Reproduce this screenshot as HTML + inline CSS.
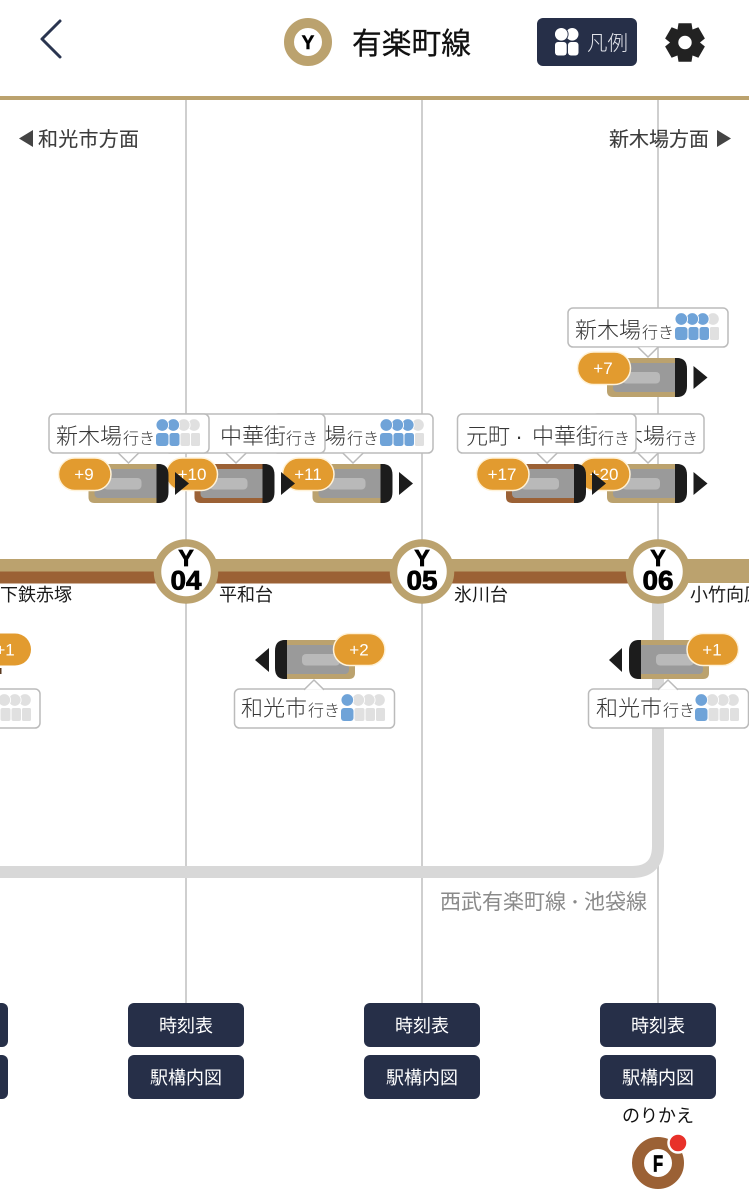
<!DOCTYPE html>
<html lang="ja"><head><meta charset="utf-8"><title>有楽町線</title>
<style>
html,body{margin:0;padding:0;background:#fff;width:749px;height:1199px;overflow:hidden}
svg{display:block}
text{font-family:"Liberation Sans","Noto Sans CJK JP",sans-serif}
.b{font-size:22px;fill:#363636;font-weight:300}
.b tspan{font-size:16px}
.n{font-size:18px;fill:#1a1a1a}
.d{font-size:20px;fill:#3c3c3c;stroke:#3c3c3c;stroke-width:.12}
.w{font-size:18px;fill:#fff;text-anchor:middle}
.o{font-size:17px;fill:#fff;text-anchor:middle}
.s{font-weight:700;fill:#000;text-anchor:middle;stroke:#000}
</style></head><body>
<svg width="749" height="1199" viewBox="0 0 749 1199" xmlns="http://www.w3.org/2000/svg">
<defs>
<g id="hb1"><rect x="0" y="14" width="12.500" height="13" rx="3" fill="#6fa3d8"/><circle cx="6.300" cy="6" r="6.300" fill="#6fa3d8" stroke="#fff" stroke-width=".9"/></g>
<g id="hb2"><rect x="13.500" y="14" width="10" height="13" rx="2.500" fill="#6fa3d8"/><circle cx="17.300" cy="6" r="6.300" fill="#6fa3d8" stroke="#fff" stroke-width=".9"/></g>
<g id="hb3"><rect x="24.500" y="14" width="9.500" height="13" rx="2.500" fill="#6fa3d8"/><circle cx="27.800" cy="6" r="6.300" fill="#6fa3d8" stroke="#fff" stroke-width=".9"/></g>
<g id="hg1"><rect x="0" y="14" width="12.500" height="13" rx="3" fill="#e0e0e0"/><circle cx="6.300" cy="6" r="6.300" fill="#e0e0e0" stroke="#fff" stroke-width=".9"/></g>
<g id="hg2"><rect x="13.500" y="14" width="10" height="13" rx="2" fill="#e0e0e0"/><circle cx="17.300" cy="6" r="6.300" fill="#e0e0e0" stroke="#fff" stroke-width=".9"/></g>
<g id="hg3"><rect x="24.500" y="14" width="9.500" height="13" rx="2" fill="#e0e0e0"/><circle cx="27.800" cy="6" r="6.300" fill="#e0e0e0" stroke="#fff" stroke-width=".9"/></g>
<g id="hg4"><rect x="35" y="14" width="9" height="13" rx="1.500" fill="#e0e0e0"/><circle cx="38" cy="6" r="6.300" fill="#e0e0e0" stroke="#fff" stroke-width=".9"/></g>
<g id="p0"><use href="#hg4"/><use href="#hg3"/><use href="#hg2"/><use href="#hg1"/></g>
<g id="p1"><use href="#hg4"/><use href="#hg3"/><use href="#hg2"/><use href="#hb1"/></g>
<g id="p2"><use href="#hg4"/><use href="#hg3"/><use href="#hb2"/><use href="#hb1"/></g>
<g id="p3"><use href="#hg4"/><use href="#hb3"/><use href="#hb2"/><use href="#hb1"/></g>
<g id="tc"><rect x="6" y="5" width="66" height="29" rx="4" fill="#9a9a9a"/><rect x="15" y="14" width="38" height="11.500" rx="4" fill="#b9b9b9"/><path d="M68 0h2q10 0 10 11v17q0 11-10 11h-2z" fill="#1c1c1c"/></g>
<g id="tg"><path d="M6 0H72V39H6q-6 0-6-6V6q0-6 6-6z" fill="#bba26e"/><use href="#tc"/></g>
<g id="tb"><path d="M6 0H72V39H6q-6 0-6-6V6q0-6 6-6z" fill="#9b6135"/><use href="#tc"/></g>
<path id="ae" d="M0 0L14 11.500L0 23z" fill="#1c1c1c"/>
<path id="tp" d="M-10 -.8L0 9L10 -.8" fill="#fff" stroke="#bbb" stroke-width="1.500"/>
<path id="tu" d="M-10 .8L0 -9L10 .8" fill="#fff" stroke="#bbb" stroke-width="1.500"/>
</defs>

<!-- header -->
<path d="M60 21L42 39L60 57" fill="none" stroke="#2a3550" stroke-width="3" stroke-linecap="round" stroke-linejoin="round"/>
<circle cx="308" cy="42" r="19" fill="#fff" stroke="#bba26e" stroke-width="10"/>
<text x="308" y="49" class="s" font-size="19" stroke-width=".5">Y</text>
<text x="352" y="54" font-size="30" fill="#111" textLength="119" lengthAdjust="spacingAndGlyphs" stroke="#111" stroke-width=".3">有楽町線</text>
<rect x="537" y="18" width="100" height="48" rx="6" fill="#262f48"/>
<g fill="#fff">
<circle cx="572.200" cy="34.300" r="6.300"/><circle cx="561.300" cy="34.300" r="6.800" stroke="#262f48" stroke-width=".9"/>
<rect x="555" y="42" width="11.700" height="13.500" rx="3"/><rect x="568" y="42" width="10.500" height="13.500" rx="3"/>
</g>
<text x="587" y="50" font-size="20.500" fill="#e4e6ec" font-weight="300">凡例</text>
<g fill="#222" transform="translate(685 42.500)">
<circle r="14.500"/>
<path d="M-6.500 -19.200H6.500L8 -10H-8z"/>
<path d="M-6.500 -19.200H6.500L8 -10H-8z" transform="rotate(60)"/>
<path d="M-6.500 -19.200H6.500L8 -10H-8z" transform="rotate(120)"/>
<path d="M-6.500 -19.200H6.500L8 -10H-8z" transform="rotate(180)"/>
<path d="M-6.500 -19.200H6.500L8 -10H-8z" transform="rotate(240)"/>
<path d="M-6.500 -19.200H6.500L8 -10H-8z" transform="rotate(300)"/>
<circle r="6.700" fill="#fff"/>
</g>
<rect x="0" y="96" width="749" height="4" fill="#bba26e"/>

<!-- verticals -->
<rect x="185" y="100" width="2" height="903" fill="#cfcfcf"/>
<rect x="421" y="100" width="2" height="903" fill="#cfcfcf"/>
<rect x="657" y="100" width="2" height="903" fill="#cfcfcf"/>
<path d="M658 590V846Q658 872 632 872H0" fill="none" stroke="#d8d8d8" stroke-width="12"/>
<text x="440" y="909" font-size="21" fill="#8a8a8a">西武有楽町線</text>
<text x="575" y="908" font-size="16" fill="#8a8a8a" text-anchor="middle">・</text>
<text x="584" y="909" font-size="21" fill="#8a8a8a">池袋線</text>

<!-- direction -->
<path d="M33 130V147L19 138.500z" fill="#444"/>
<text x="38" y="146" class="d" textLength="101">和光市方面</text>
<text x="609" y="146" class="d" textLength="100">新木場方面</text>
<path d="M717 130V147L731 138.500z" fill="#444"/>

<!-- tracks -->
<rect x="0" y="559" width="749" height="24" fill="#bba26e"/>
<rect x="0" y="571.500" width="658" height="12" fill="#9b6135"/>

<!-- stations -->
<g>
<circle cx="186" cy="571.500" r="28.500" fill="#fff" stroke="#bba26e" stroke-width="7.500"/>
<text x="186" y="566" class="s" font-size="23" stroke-width=".8">Y</text>
<text x="186" y="589.500" class="s" font-size="27" textLength="31" lengthAdjust="spacingAndGlyphs" stroke-width=".8">04</text>
<circle cx="422" cy="571.500" r="28.500" fill="#fff" stroke="#bba26e" stroke-width="7.500"/>
<text x="422" y="566" class="s" font-size="23" stroke-width=".8">Y</text>
<text x="422" y="589.500" class="s" font-size="27" textLength="31" lengthAdjust="spacingAndGlyphs" stroke-width=".8">05</text>
<circle cx="658" cy="571.500" r="28.500" fill="#fff" stroke="#bba26e" stroke-width="7.500"/>
<text x="658" y="566" class="s" font-size="23" stroke-width=".8">Y</text>
<text x="658" y="589.500" class="s" font-size="27" textLength="31" lengthAdjust="spacingAndGlyphs" stroke-width=".8">06</text>
</g>
<text x="-18" y="601" class="n">地下鉄赤塚</text>
<text x="219" y="601" class="n">平和台</text>
<text x="454" y="601" class="n">氷川台</text>
<text x="690" y="601" class="n">小竹向原</text>

<!-- top train -->
<g>
<rect x="568" y="308" width="160" height="39" rx="5" fill="#fff" stroke="#bbb" stroke-width="1.500"/>
<use href="#tp" x="648" y="348"/>
<text x="575" y="338" class="b">新木場<tspan dx="1">行き</tspan></text>
<use href="#p3" x="675" y="313"/>
<use href="#tg" x="607" y="358"/>
<rect x="577.500" y="352" width="53" height="32.500" rx="16.200" fill="#e29b2f" stroke="#fff2d8" stroke-width="1.500"/>
<text x="603" y="374" class="o">+7</text>
<use href="#ae" x="693.500" y="366"/>
</g>

<!-- row: right to left -->
<g>
<rect x="592" y="414" width="112" height="39" rx="5" fill="#fff" stroke="#bbb" stroke-width="1.500"/>
<use href="#tp" x="648" y="454"/>
<text x="599" y="444" class="b">新木場<tspan dx="1">行き</tspan></text>
<use href="#tg" x="607" y="464"/>
<rect x="578" y="458" width="52" height="32.500" rx="16.200" fill="#e29b2f" stroke="#fff2d8" stroke-width="1.500"/>
<text x="604" y="480" class="o">+20</text>
<use href="#ae" x="693.500" y="472"/>
</g>
<g>
<rect x="457.500" y="414" width="178.500" height="39" rx="5" fill="#fff" stroke="#bbb" stroke-width="1.500"/>
<use href="#tp" x="547" y="454"/>
<text x="466" y="444" class="b">元町</text>
<text x="519" y="444" class="b" text-anchor="middle">·</text>
<text x="532" y="444" class="b">中華街<tspan>行き</tspan></text>
<use href="#tb" x="506" y="464"/>
<rect x="476.500" y="458" width="52.500" height="32.500" rx="16.200" fill="#e29b2f" stroke="#fff2d8" stroke-width="1.500"/>
<text x="502" y="480" class="o">+17</text>
<use href="#ae" x="592" y="472"/>
</g>
<g>
<rect x="273" y="414" width="160" height="39" rx="5" fill="#fff" stroke="#bbb" stroke-width="1.500"/>
<use href="#tp" x="353" y="454"/>
<text x="280" y="444" class="b">新木場<tspan dx="1">行き</tspan></text>
<use href="#p3" x="380" y="419"/>
<use href="#tg" x="312.500" y="464"/>
<rect x="282.500" y="458" width="51.500" height="32.500" rx="16.200" fill="#e29b2f" stroke="#fff2d8" stroke-width="1.500"/>
<text x="308" y="480" class="o">+11</text>
<use href="#ae" x="399" y="472"/>
</g>
<g>
<rect x="165" y="414" width="160" height="39" rx="5" fill="#fff" stroke="#bbb" stroke-width="1.500"/>
<use href="#tp" x="236" y="454"/>
<text x="220" y="444" class="b">中華街<tspan>行き</tspan></text>
<use href="#tb" x="194.500" y="464"/>
<rect x="166" y="458" width="51.500" height="32.500" rx="16.200" fill="#e29b2f" stroke="#fff2d8" stroke-width="1.500"/>
<text x="192" y="480" class="o">+10</text>
<use href="#ae" x="281" y="472"/>
</g>
<g>
<rect x="49" y="414" width="160" height="39" rx="5" fill="#fff" stroke="#bbb" stroke-width="1.500"/>
<use href="#tp" x="128.500" y="454"/>
<text x="56" y="444" class="b">新木場<tspan dx="1">行き</tspan></text>
<use href="#p2" x="156" y="419"/>
<use href="#tg" x="88.500" y="464"/>
<rect x="58.500" y="458" width="52.500" height="32.500" rx="16.200" fill="#e29b2f" stroke="#fff2d8" stroke-width="1.500"/>
<text x="84" y="480" class="o">+9</text>
<use href="#ae" x="175" y="472"/>
</g>

<!-- westbound -->
<g>
<rect x="-120" y="689" width="160" height="39" rx="5" fill="#fff" stroke="#bbb" stroke-width="1.500"/>
<use href="#p0" x="-13" y="694"/>
<rect x="0" y="668" width="1.500" height="6" fill="#5a3a20"/>
<rect x="-21" y="633.500" width="52" height="32" rx="16" fill="#e29b2f"/>
<text x="5" y="655.500" class="o">+1</text>
</g>
<g>
<rect x="234.500" y="689" width="160" height="39" rx="5" fill="#fff" stroke="#bbb" stroke-width="1.500"/>
<use href="#tu" x="314" y="689"/>
<text x="241" y="716" class="b">和光市<tspan dx="1">行き</tspan></text>
<use href="#p1" x="341" y="694"/>
<g transform="translate(355 640) scale(-1 1)"><use href="#tg"/></g>
<rect x="333.500" y="633.500" width="51.500" height="32" rx="16" fill="#e29b2f" stroke="#fff2d8" stroke-width="1.500"/>
<text x="359" y="655.500" class="o">+2</text>
<path d="M269 648V672L255 660z" fill="#1c1c1c"/>
</g>
<g>
<rect x="588.500" y="689" width="160" height="39" rx="5" fill="#fff" stroke="#bbb" stroke-width="1.500"/>
<use href="#tu" x="668" y="689"/>
<text x="596" y="716" class="b">和光市<tspan dx="1">行き</tspan></text>
<use href="#p1" x="695" y="694"/>
<g transform="translate(709 640) scale(-1 1)"><use href="#tg"/></g>
<rect x="687" y="633.500" width="51.500" height="32" rx="16" fill="#e29b2f" stroke="#fff2d8" stroke-width="1.500"/>
<text x="712" y="655.500" class="o">+1</text>
<path d="M622 648V672L609 660z" fill="#1c1c1c"/>
</g>

<!-- buttons -->
<g fill="#262f48">
<rect x="-108" y="1003" width="116" height="44" rx="6"/><rect x="-108" y="1055" width="116" height="44" rx="6"/>
<rect x="128" y="1003" width="116" height="44" rx="6"/><rect x="128" y="1055" width="116" height="44" rx="6"/>
<rect x="364" y="1003" width="116" height="44" rx="6"/><rect x="364" y="1055" width="116" height="44" rx="6"/>
<rect x="600" y="1003" width="116" height="44" rx="6"/><rect x="600" y="1055" width="116" height="44" rx="6"/>
</g>
<text x="186" y="1032" class="w">時刻表</text><text x="186" y="1084" class="w">駅構内図</text>
<text x="422" y="1032" class="w">時刻表</text><text x="422" y="1084" class="w">駅構内図</text>
<text x="658" y="1032" class="w">時刻表</text><text x="658" y="1084" class="w">駅構内図</text>

<text x="658" y="1122" font-size="18" fill="#111" text-anchor="middle">のりかえ</text>
<circle cx="658" cy="1163" r="20" fill="#fff" stroke="#9b6135" stroke-width="12"/>
<text transform="translate(658 1171.500) scale(.72 1)" class="s" font-size="23" stroke-width=".8">F</text>
<circle cx="678" cy="1143" r="9.500" fill="#e8312a" stroke="#fff" stroke-width="2.500"/>
</svg>
</body></html>
